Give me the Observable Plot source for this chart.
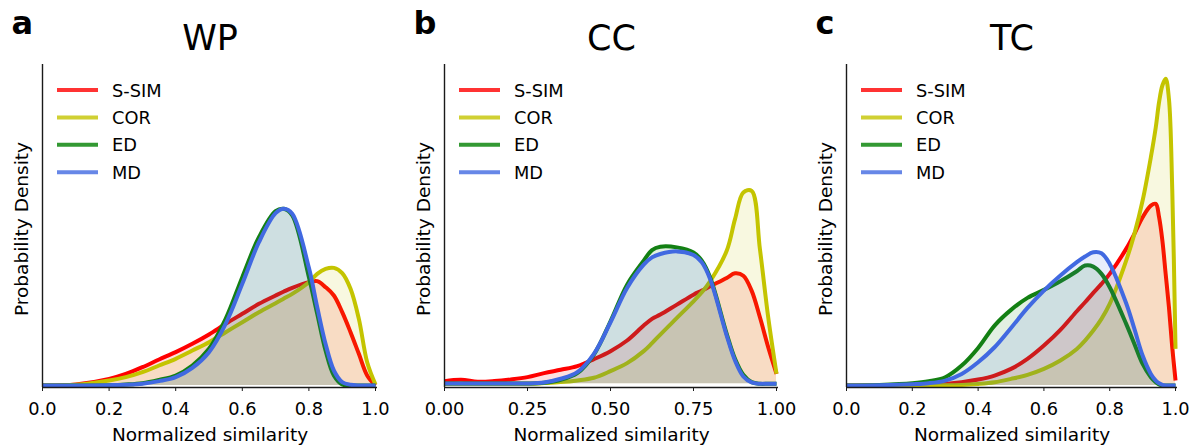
<!DOCTYPE html>
<html>
<head>
<meta charset="utf-8">
<script src="https://cdn.jsdelivr.net/npm/d3@7"></script>
<script src="https://cdn.jsdelivr.net/npm/@observablehq/plot@0.6"></script>
<style>
  html, body { margin: 0; padding: 0; background: #fff; }
  #wrap { position: relative; width: 1197px; height: 448px; overflow: hidden; font-family: "DejaVu Sans", sans-serif; }
  .panel { position: absolute; top: 0; }
  #legend { position: absolute; left: 0; top: 0; pointer-events: none; }
</style>
</head>
<body>
<div id="wrap"></div>
<script>
// ---------- data (density estimates) ----------
const seriesNames = ["S-SIM", "COR", "ED", "MD"];
const lineColors  = ["#ff0000", "#c4c400", "#138013", "#4169e1"];
const legendColors = ["#ff3333", "#d0d033", "#339933", "#6787e7"];

const panelTitles  = ["WP", "CC", "TC"];
const panelLetters = ["a", "b", "c"];
const xLabel = "Normalized similarity";
const yLabel = "Probability Density";

const ticksAC = [0, 0.2, 0.4, 0.6, 0.8, 1.0];
const ticksB  = [0, 0.25, 0.5, 0.75, 1.0];

// Panel a: WP
const xWP = [0, 0.1, 0.2, 0.25, 0.3, 0.35, 0.4, 0.45, 0.5, 0.55, 0.6, 0.65, 0.7, 0.725, 0.75, 0.8, 0.825, 0.85, 0.875, 0.9, 0.925, 0.95, 0.975, 1.0];
const wpSSIM = [0, 0.025, 0.166, 0.291, 0.457, 0.648, 0.831, 1.038, 1.271, 1.537, 1.786, 2.035, 2.243, 2.343, 2.434, 2.575, 2.600, 2.451, 2.243, 1.828, 1.329, 0.789, 0.249, 0];
const wpCOR  = [0, 0.017, 0.125, 0.208, 0.332, 0.498, 0.665, 0.872, 1.080, 1.329, 1.578, 1.828, 2.052, 2.168, 2.284, 2.575, 2.783, 2.907, 2.932, 2.800, 2.409, 1.661, 0.581, 0.025];
const wpED   = [0, 0, 0.008, 0.025, 0.058, 0.141, 0.249, 0.498, 0.914, 1.661, 2.700, 3.697, 4.345, 4.403, 4.237, 2.700, 1.786, 0.872, 0.249, 0.025, 0, 0, 0, 0];
const wpMD   = [0, 0, 0.008, 0.017, 0.042, 0.108, 0.208, 0.440, 0.831, 1.537, 2.534, 3.572, 4.295, 4.403, 4.278, 2.932, 1.952, 1.038, 0.374, 0.083, 0.017, 0, 0, 0];

// Panel b: CC
const xCC = [0, 0.05, 0.1, 0.15, 0.2, 0.25, 0.3, 0.35, 0.4, 0.45, 0.5, 0.55, 0.6, 0.625, 0.65, 0.7, 0.75, 0.775, 0.8, 0.85, 0.875, 0.9, 0.925, 0.95, 0.975, 1.0];
const ccSSIM = [0.05, 0.075, 0.038, 0.05, 0.081, 0.125, 0.2, 0.263, 0.331, 0.463, 0.613, 0.813, 1.094, 1.219, 1.3, 1.488, 1.675, 1.75, 1.831, 1.988, 2.075, 2.031, 1.75, 1.25, 0.688, 0.188];
const ccCOR  = [0, 0, 0, 0, 0, 0, 0.013, 0.031, 0.063, 0.113, 0.238, 0.388, 0.613, 0.763, 0.925, 1.238, 1.55, 1.719, 1.925, 2.5, 3.094, 3.594, 3.625, 2.531, 1.25, 0.188];
const ccED   = [0.006, 0.006, 0.006, 0.006, 0.006, 0.006, 0.019, 0.075, 0.2, 0.55, 1.175, 1.863, 2.313, 2.513, 2.575, 2.563, 2.469, 2.313, 2.0, 0.938, 0.469, 0.169, 0.031, 0, 0, 0];
const ccMD   = [0.006, 0.006, 0.006, 0.006, 0.006, 0.006, 0.025, 0.094, 0.219, 0.563, 1.156, 1.8, 2.238, 2.375, 2.438, 2.488, 2.419, 2.281, 1.969, 0.906, 0.438, 0.138, 0.025, 0, 0, 0];

// Panel c: TC
const xTC = [0, 0.1, 0.2, 0.25, 0.3, 0.35, 0.4, 0.45, 0.5, 0.55, 0.6, 0.65, 0.7, 0.725, 0.75, 0.775, 0.8, 0.85, 0.875, 0.9, 0.925, 0.94, 0.95, 0.96, 0.97, 0.98, 0.99, 1.0];
const tcSSIM = [0, 0, 0.010, 0.021, 0.052, 0.104, 0.187, 0.312, 0.519, 0.831, 1.246, 1.734, 2.316, 2.596, 2.887, 3.167, 3.479, 4.257, 4.725, 5.244, 5.607, 5.659, 5.244, 4.517, 3.479, 2.440, 1.194, 0.156];
const tcCOR  = [0, 0, 0.010, 0.010, 0.010, 0.021, 0.052, 0.104, 0.208, 0.332, 0.519, 0.779, 1.142, 1.402, 1.713, 2.077, 2.544, 3.894, 4.725, 5.763, 7.113, 8.048, 8.826, 9.346, 9.553, 8.930, 6.127, 1.142];
const tcED   = [0, 0.021, 0.073, 0.135, 0.260, 0.623, 1.173, 1.869, 2.357, 2.731, 2.980, 3.250, 3.562, 3.738, 3.707, 3.479, 3.063, 1.921, 1.298, 0.675, 0.260, 0.104, 0.031, 0, 0, 0, 0, 0];
const tcMD   = [0, 0.010, 0.042, 0.073, 0.156, 0.363, 0.727, 1.194, 1.796, 2.419, 2.959, 3.427, 3.842, 4.019, 4.154, 4.122, 3.790, 2.565, 1.765, 0.935, 0.363, 0.156, 0.073, 0.021, 0, 0, 0, 0];

// ---------- layout ----------
const panels = [
  { left: 0,   width: 400, mLeft: 42, mRight: 23, x: xWP, vals: [wpSSIM, wpCOR, wpED, wpMD], yDomain: [-0.05, 8],  ticks: ticksAC, fmt: ".1f" },
  { left: 400, width: 397, mLeft: 44, mRight: 19, x: xCC, vals: [ccSSIM, ccCOR, ccED, ccMD], yDomain: [-0.07, 6],  ticks: ticksB,  fmt: ".2f" },
  { left: 797, width: 400, mLeft: 49, mRight: 20, x: xTC, vals: [tcSSIM, tcCOR, tcED, tcMD], yDomain: [-0.06, 10], ticks: ticksAC, fmt: ".1f" }
];

const wrap = document.getElementById("wrap");
const FS = 17.8;     // tick labels & legend
const FSL = 18.5;    // axis labels

panels.forEach((p, pi) => {
  const marks = [];
  seriesNames.forEach((name, si) => {
    const rows = p.x.map((xv, i) => ({ series: name, x: xv, y: p.vals[si][i] }));
    marks.push(Plot.areaY(rows, { x: "x", y: "y", fill: "series", fillOpacity: 0.12, curve: "catmull-rom" }));
    marks.push(Plot.line(rows, { x: "x", y: "y", stroke: "series", strokeWidth: 4, curve: "catmull-rom", strokeLinejoin: "round", strokeLinecap: "butt" }));
  });
  marks.push(Plot.ruleX([0], { stroke: "#1a1a1a", strokeWidth: 1.4 }));
  marks.push(Plot.ruleY([p.yDomain[0]], { stroke: "#1a1a1a", strokeWidth: 1.4 }));
  marks.push(Plot.axisX({ ticks: p.ticks, tickFormat: d3.format(p.fmt), tickSize: 4, tickPadding: 11, fontSize: FS, label: null, stroke: "#1a1a1a", fill: "#000" }));
  marks.push(Plot.text([xLabel], { text: d => d, frameAnchor: "bottom", textAnchor: "middle", lineAnchor: "bottom", dy: 53.7, fontSize: FSL, fill: "#000" }));
  marks.push(Plot.text([yLabel], { text: d => d, frameAnchor: "left", textAnchor: "middle", lineAnchor: "bottom", rotate: -90, dx: -14.3, dy: 3, fontSize: FSL, fill: "#000" }));
  marks.push(Plot.text([panelTitles[pi]], { text: d => d, frameAnchor: "top", textAnchor: "middle", lineAnchor: "bottom", dy: -14.7, fontSize: 35, fill: "#000" }));
  marks.push(Plot.text([panelLetters[pi]], { text: d => d, frameAnchor: "top-left", textAnchor: "start", lineAnchor: "bottom", dx: -31, dy: -30.5, fontSize: 32, fontWeight: "bold", fill: "#000" }));

  const chart = Plot.plot({
    width: p.width, height: 448,
    marginLeft: p.mLeft, marginRight: p.mRight, marginTop: 64, marginBottom: 61,
    x: { domain: [0, 1.006] },
    y: { domain: p.yDomain, axis: null },
    color: { domain: seriesNames, range: lineColors },
    style: { fontFamily: "DejaVu Sans", fontSize: FS + "px", background: "transparent", color: "#000", overflow: "visible" },
    marks
  });
  const div = document.createElement("div");
  div.className = "panel";
  div.style.left = p.left + "px";
  div.appendChild(chart);
  wrap.appendChild(div);
});

// ---------- legends (in-axes, upper left) ----------
const legend = d3.select(wrap).append("svg").attr("id", "legend").attr("width", 1197).attr("height", 448);
panels.forEach(p => {
  const axisLeft = p.left + p.mLeft;
  seriesNames.forEach((name, i) => {
    const cy = 90 + i * 27.4;
    legend.append("line")
      .attr("x1", axisLeft + 15).attr("x2", axisLeft + 56)
      .attr("y1", cy).attr("y2", cy)
      .attr("stroke", legendColors[i]).attr("stroke-width", 4);
    legend.append("text")
      .attr("x", axisLeft + 70).attr("y", cy + 6.6)
      .attr("font-family", "DejaVu Sans").attr("font-size", FS)
      .attr("fill", "#000")
      .text(name);
  });
});
</script>
</body>
</html>
